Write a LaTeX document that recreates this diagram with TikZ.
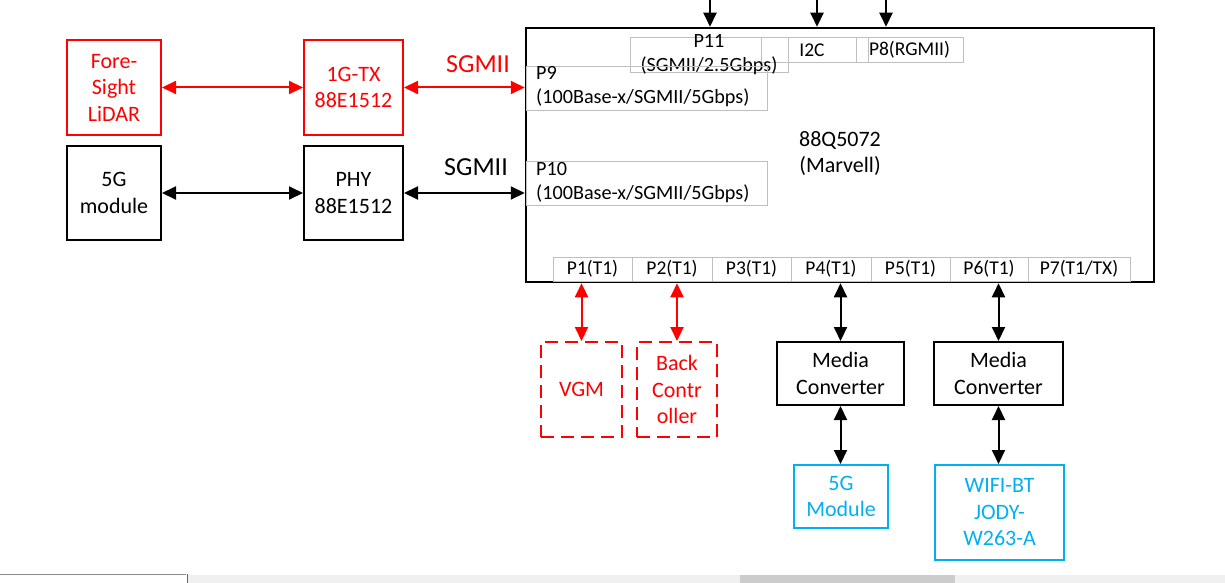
\documentclass[tikz,border=0pt]{standalone}
\usepackage{fontspec}
\setmainfont{Carlito}
\usetikzlibrary{arrows.meta}
\definecolor{cy}{HTML}{00B0F0}
\definecolor{gb}{HTML}{BFBFBF}
\definecolor{rd}{HTML}{FF0000}
\begin{document}
\begin{tikzpicture}[x=1pt,y=-1pt,
  blk/.style={draw=black, line width=2pt, align=center, inner sep=0pt, font=\fontsize{22}{26.5}\selectfont},
  redbox/.style={blk, draw=rd, text=rd},
  dashbox/.style={redbox, dash pattern=on 13pt off 7pt},
  cybox/.style={blk, draw=cy, text=cy},
  thinbox/.style={draw=gb, line width=0.9pt, inner sep=0pt},
  ptxt/.style={inner sep=0pt, font=\fontsize{19.5}{24}\selectfont},
  wtxt/.style={inner sep=0pt, font=\fontsize{20.2}{24}\selectfont},
  lbl/.style={inner sep=0pt, font=\fontsize{26}{30}\selectfont},
  arr/.style={line width=2pt, {Triangle[length=14pt,width=13pt]}-{Triangle[length=14pt,width=13pt]}},
  rarr/.style={arr, draw=rd, fill=rd},
  darr/.style={line width=2pt, -{Triangle[length=14pt,width=13pt]}}
]
\useasboundingbox (0,0) rectangle (1225,583);
% main switch
\node[draw=black, line width=2.5pt, minimum width=628pt, minimum height=254pt, inner sep=0pt] (main) at (840,155) {};
\node[inner sep=0pt, align=center, font=\fontsize{22}{26}\selectfont] (mainlbl) at (840,154) {88Q5072\\(Marvell)};
% top inner boxes
\node[thinbox, minimum width=158pt, minimum height=35pt] (p11) at (709,54.5) {};
\node[thinbox, minimum width=107pt, minimum height=25pt] (i2c) at (814.5,49.5) {};
\node[thinbox, minimum width=107pt, minimum height=25pt] (p8) at (909.5,49.5) {};
\node[wtxt, align=center] (p11t) at (709,55) {P11\\(SGMII/2.5Gbps)};
\node[ptxt] (i2ct) at (812,50) {I2C};
\node[ptxt] (p8t) at (909.5,50) {P8(RGMII)};
% P9 / P10
\node[thinbox, minimum width=241pt, minimum height=44pt] (p9) at (646.5,88) {};
\node[wtxt, align=left, anchor=west] (p9t) at (536,87) {P9\\(100Base-x/SGMII/5Gbps)};
\node[thinbox, minimum width=241pt, minimum height=44pt] (p10) at (646.5,183) {};
\node[wtxt, align=left, anchor=west] (p10t) at (536,182.5) {P10\\(100Base-x/SGMII/5Gbps)};
% ports
\node[thinbox, ptxt, minimum width=79pt, minimum height=24pt] (pa) at (592.5,269) {P1(T1)};
\node[thinbox, ptxt, minimum width=80pt, minimum height=24pt] (pb) at (672,269) {P2(T1)};
\node[thinbox, ptxt, minimum width=79pt, minimum height=24pt] (pc) at (751.5,269) {P3(T1)};
\node[thinbox, ptxt, minimum width=80pt, minimum height=24pt] (pd) at (831,269) {P4(T1)};
\node[thinbox, ptxt, minimum width=79pt, minimum height=24pt] (pe) at (910.5,269) {P5(T1)};
\node[thinbox, ptxt, minimum width=78pt, minimum height=24pt] (pf) at (989,269) {P6(T1)};
\node[thinbox, ptxt, minimum width=102pt, minimum height=24pt] (pg) at (1079,269) {P7(T1/TX)};
% left boxes
\node[redbox, minimum width=94pt, minimum height=95pt] (lidar) at (114,87.5) {Fore-\\Sight\\LiDAR};
\node[redbox, minimum width=99pt, minimum height=95pt] (tx) at (353.5,87.5) {1G-TX\\88E1512};
\node[blk, minimum width=94pt, minimum height=94pt] (g5) at (114,193) {5G\\module};
\node[blk, minimum width=99pt, minimum height=94pt] (phy) at (353.5,193) {PHY\\88E1512};
\node[lbl, text=rd] (sg1) at (478,64) {SGMII};
\node[lbl] (sg2) at (476,167) {SGMII};
% bottom boxes
\node[dashbox, minimum width=81pt, minimum height=95pt] (vgm) at (581.5,389.5) {VGM};
\node[dashbox, minimum width=80pt, minimum height=95pt] (back) at (677,389.5) {Back\\Contr\\oller};
\node[blk, minimum width=127pt, minimum height=63pt] (mc1) at (840.5,373.5) {Media\\Converter};
\node[blk, minimum width=129pt, minimum height=63pt] (mc2) at (998.5,373.5) {Media\\Converter};
\node[cybox, minimum width=94pt, minimum height=63pt] (m5g) at (841,496.5) {5G\\Module};
\node[cybox, minimum width=129pt, minimum height=95pt] (wifi) at (999.5,512.5) {WIFI-BT\\JODY-\\W263-A};
% connectors
\draw[rarr] (lidar.east) -- (tx.west);
\draw[rarr] (tx.east) -- (tx.east -| main.west);
\draw[arr] (g5.east) -- (phy.west);
\draw[arr] (phy.east) -- (phy.east -| main.west);
\coordinate (ta) at (710,-3);
\coordinate (tb) at (817,-3);
\coordinate (tc) at (886,-3);
\draw[darr] (ta) -- (ta |- main.north);
\draw[darr] (tb) -- (tb |- main.north);
\draw[darr] (tc) -- (tc |- main.north);
\draw[rarr] (vgm.north |- main.south) -- (vgm.north);
\draw[rarr] (back.north |- main.south) -- (back.north);
\draw[arr] (mc1.north |- main.south) -- (mc1.north);
\draw[arr] (mc2.north |- main.south) -- (mc2.north);
\draw[arr] (mc1.south) -- (mc1.south |- m5g.north);
\draw[arr] (mc2.south) -- (mc2.south |- wifi.north);
% bottom scroll strip
\fill[black!6] (187,575) rectangle (1225,583);
\fill[black!20] (740,575) rectangle (955,583);
\draw[black!45, line width=1pt] (0,574.5) -- (186,574.5);
\draw[black!60, line width=0.8pt] (187.5,574) -- (187.5,583);
\end{tikzpicture}
\end{document}
